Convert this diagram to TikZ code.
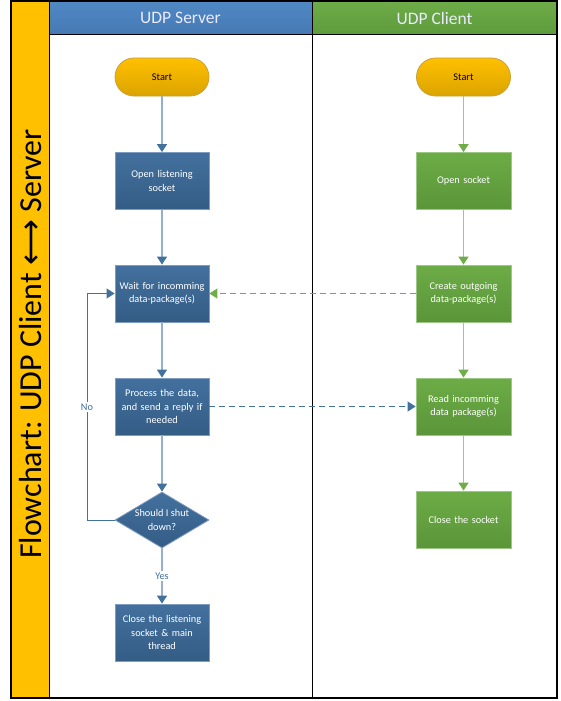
\documentclass[tikz,border=0pt]{standalone}
\usepackage{fontspec}
\setmainfont{Carlito}
\newfontfamily\symfont{DejaVu Sans}
\usetikzlibrary{shapes.geometric,arrows.meta}
\definecolor{laneyellow}{HTML}{FFC000}
\definecolor{hdrblue}{HTML}{5089C5}
\definecolor{hdrblueD}{HTML}{4679B3}
\definecolor{hdrgreen}{HTML}{6DAD48}
\definecolor{hdrgreenD}{HTML}{5D9A3C}
\definecolor{boxblueT}{HTML}{43709E}
\definecolor{boxblueB}{HTML}{345D85}
\definecolor{boxblueE}{HTML}{7E9CC0}
\definecolor{boxgreenT}{HTML}{6CAC46}
\definecolor{boxgreenB}{HTML}{5B9539}
\definecolor{boxgreenE}{HTML}{9CC784}
\definecolor{startT}{HTML}{FFC000}
\definecolor{startB}{HTML}{DBA300}
\definecolor{startE}{HTML}{C9A03A}
\definecolor{lineblue}{HTML}{94AFCF}
\definecolor{tipblue}{HTML}{41719C}
\definecolor{linegreen}{HTML}{9BCB7E}
\definecolor{tipgreen}{HTML}{70AD47}
\definecolor{lblblue}{HTML}{41719C}
\begin{document}
\begin{tikzpicture}[x=1pt,y=-1pt,
  boxfont/.style={font=\fontsize{10.3}{13.3}\selectfont},
  bluebox/.style={boxfont, draw=boxblueE, line width=0.8pt, top color=boxblueT, bottom color=boxblueB,
    minimum width=94pt, minimum height=57pt, text width=92pt, align=center, inner sep=0pt, text=white},
  greenbox/.style={boxfont, draw=boxgreenE, line width=0.8pt, top color=boxgreenT, bottom color=boxgreenB,
    minimum width=95pt, minimum height=57pt, text width=92pt, align=center, inner sep=0pt, text=white},
  startnode/.style={boxfont, draw=startE, line width=0.8pt, top color=startT, bottom color=startB,
    rounded corners=19pt, minimum width=94pt, minimum height=38pt, inner sep=0pt, text=black},
  decision/.style={boxfont, diamond, aspect=1.68, draw=boxblueE, line width=0.8pt, top color=boxblueT, bottom color=boxblueB,
    minimum width=94pt, minimum height=56pt, inner sep=0pt, align=center, text=white},
  bconn/.style={draw=lineblue, line width=1.4pt, -{Triangle[length=8pt,width=10pt,fill=tipblue,color=tipblue]}},
  gconn/.style={draw=linegreen, line width=1.4pt, -{Triangle[length=8pt,width=10pt,fill=tipgreen,color=tipgreen]}},
  bloop/.style={draw=tipblue, line width=1pt, -{Triangle[length=8pt,width=10pt,fill=tipblue]}},
  bdash/.style={draw=tipblue, line width=1pt, dash pattern=on 6pt off 4pt, -{Triangle[length=8pt,width=10pt,fill=tipblue]}},
  gdash/.style={draw=tipgreen, line width=1pt, dash pattern=on 6pt off 4pt, -{Triangle[length=8pt,width=10pt,fill=tipgreen]}},
  lbl/.style={fill=white, text=lblblue, inner sep=1.5pt, font=\fontsize{10.3}{12}\selectfont},
  hdr/.style={text=white!92!blue, font=\fontsize{17.5}{20}\selectfont}
]
\useasboundingbox (0,0) rectangle (560,701);
% lanes
\fill[laneyellow] (11,1) rectangle (49,698);
\shade[top color=hdrblue, bottom color=hdrblueD] (49,1) rectangle (312,35);
\shade[top color=hdrgreen, bottom color=hdrgreenD] (312,1) rectangle (557,35);
\draw[line width=1.2pt] (11,1) rectangle (557,698);
\draw[line width=1pt] (49,1) -- (49,698);
\draw[line width=1pt] (312,1) -- (312,698);
\draw[line width=1pt] (49,35) -- (557,35);
\node[rotate=90, font=\fontsize{32}{36}\selectfont] (title) at (31,344) {Flowchart: UDP Client {\symfont ⟷} Server};
\node[hdr] (hs) at (180.5,18) {UDP Server};
\node[hdr] (hc) at (434.5,18) {UDP Client};
% server
\node[startnode] (ss) at (162,77) {Start};
\node[bluebox] (ols) at (162,181) {Open listening\\socket};
\node[bluebox] (wait) at (162,293.5) {Wait for incomming\\data-package(s)};
\node[bluebox] (proc) at (162,406.5) {Process the data,\\and send a reply if\\needed};
\node[decision] (dec) at (162,520) {Should I shut\\down?};
\node[bluebox] (close) at (162,632.5) {Close the listening\\socket \& main\\thread};
% client
\node[startnode] (cs) at (463.5,77) {Start};
\node[greenbox] (os) at (463.5,181) {Open socket};
\node[greenbox] (co) at (463.5,293.5) {Create outgoing\\data-package(s)};
\node[greenbox] (ri) at (463.5,406.5) {Read incomming\\data package(s)};
\node[greenbox] (cls) at (463.5,519.5) {Close the socket};
% connectors
\draw[bconn] (ss) -- (ols);
\draw[bconn] (ols) -- (wait);
\draw[bconn] (wait) -- (proc);
\draw[bconn] (proc) -- (dec);
\draw[bconn] (dec) -- node[lbl] {Yes} (close);
\coordinate (noc) at (87,520);
\draw[bloop] (dec.west) -- (noc) -- node[lbl] {No} (noc |- wait.west) -- (wait.west);
\draw[gconn] (cs) -- (os);
\draw[gconn] (os) -- (co);
\draw[gconn] (co) -- (ri);
\draw[gconn] (ri) -- (cls);
\draw[gdash] (co.west) -- (wait.east);
\draw[bdash] (proc.east) -- (ri.west);
\end{tikzpicture}
\end{document}
